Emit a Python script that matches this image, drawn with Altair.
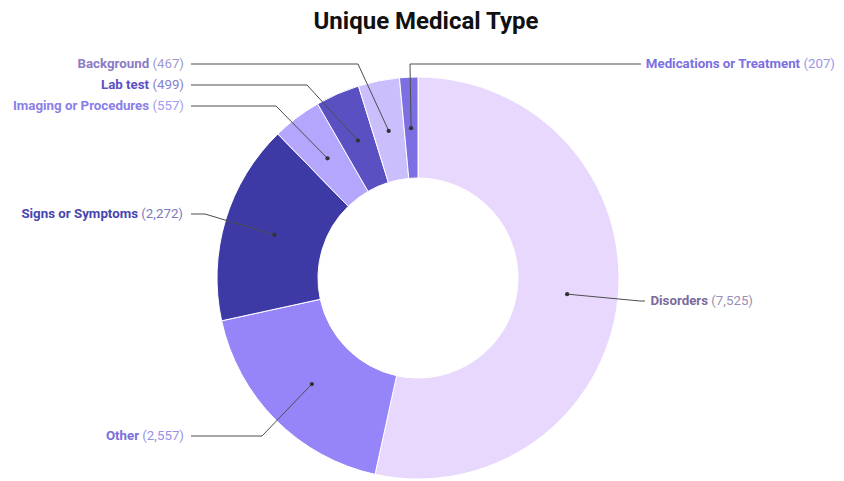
import math
import altair as alt
import pandas as pd

# ---- data ----
chart_title = "Unique Medical Type"
categories = ["Disorders", "Other", "Signs or Symptoms", "Imaging or Procedures",
              "Lab test", "Background", "Medications or Treatment"]
values = [7525, 2557, 2272, 557, 499, 467, 207]
slice_colors = ["#e9d8fd", "#9585f8", "#3e3aa5", "#b3a6fc", "#5a50c2", "#cbbefd", "#7b6fe2"]
name_colors = ["#7b6b9d", "#7a6ee0", "#4845ae", "#8a7eea", "#5a50c2", "#8a7bc4", "#7b6fe2"]
value_colors = ["#9a8fb5", "#9a90e8", "#7c78c4", "#a49bee", "#8580d0", "#a198cf", "#9d94ea"]

# ---- layout (plot-area pixels) ----
W, H = 828, 473
OX, OY = 8, 8  # screen offset of plot origin
CX, CY = 418 - OX, 278 - OY
R_OUT, R_IN, R_DOT = 201, 100, 150
# label vertical centre, label right end, elbow x, line end x (screen coords)
label_y = [301, 436, 214, 106, 85, 64, 64]
label_end = [753, 184, 183, 184, 184, 184, 835]
elbow_x = [640, 262, 205, 276, 307, 358, 410]
line_end = [645, 191, 191, 191, 191, 191, 641]
title_x, title_y = 426 - OX, 29 - OY

FS = 13.3
CW = {"(": 0.3418, ")": 0.3477, ",": 0.1963, " ": 0.2476}


def text_w(s):
    return sum(CW.get(c, 0.5615) for c in s) * FS


total = sum(values)
cum = 0
arc_rows, pts, dots, texts = [], [], [], []
for i, (c, v) in enumerate(zip(categories, values)):
    mid = (cum + v / 2) / total
    cum += v
    a = 2 * math.pi * mid
    dx = CX + R_DOT * math.sin(a)
    dy = CY - R_DOT * math.cos(a)
    arc_rows.append({"cat": c, "value": v, "idx": i})
    dots.append({"cat": c, "x": dx, "y": dy})
    ly = label_y[i] - OY
    pts += [
        {"cat": c, "seq": 0, "x": dx, "y": dy},
        {"cat": c, "seq": 1, "x": elbow_x[i] - OX, "y": ly},
        {"cat": c, "seq": 2, "x": line_end[i] - OX, "y": ly},
    ]
    vstr = f"({v:,})"
    xe = label_end[i] - OX
    texts.append({"t": vstr, "x": xe, "y": ly, "col": value_colors[i], "bold": False})
    texts.append({"t": c, "x": xe - text_w(vstr) - 3.3, "y": ly, "col": name_colors[i], "bold": True})

arc_df = pd.DataFrame(arc_rows)
pts_df = pd.DataFrame(pts)
dots_df = pd.DataFrame(dots)
txt_df = pd.DataFrame(texts)
title_df = pd.DataFrame([{"t": chart_title, "x": title_x, "y": title_y}])

donut = alt.Chart(arc_df).mark_arc(
    outerRadius=R_OUT, innerRadius=R_IN, stroke="white", strokeWidth=1
).encode(
    theta=alt.Theta("value:Q", stack=True),
    order=alt.Order("idx:Q", sort="ascending"),
    color=alt.Color("cat:N", scale=alt.Scale(domain=categories, range=slice_colors), legend=None),
    x=alt.value(CX),
    y=alt.value(CY),
)

leaders = alt.Chart(pts_df).mark_line(color="#4d4d4d", strokeWidth=1).encode(
    x=alt.X("x:Q", scale=None),
    y=alt.Y("y:Q", scale=None),
    detail="cat:N",
    order="seq:Q",
)

dot_layer = alt.Chart(dots_df).mark_circle(color="#333333", size=18, opacity=1).encode(
    x=alt.X("x:Q", scale=None),
    y=alt.Y("y:Q", scale=None),
)

names = alt.Chart(txt_df[txt_df.bold]).mark_text(
    align="right", baseline="middle", font="Roboto", fontSize=FS, fontWeight="bold"
).encode(
    x=alt.X("x:Q", scale=None), y=alt.Y("y:Q", scale=None),
    text="t:N", color=alt.Color("col:N", scale=None),
)
vals = alt.Chart(txt_df[~txt_df.bold]).mark_text(
    align="right", baseline="middle", font="Roboto", fontSize=FS, fontWeight="normal"
).encode(
    x=alt.X("x:Q", scale=None), y=alt.Y("y:Q", scale=None),
    text="t:N", color=alt.Color("col:N", scale=None),
)

title = alt.Chart(title_df).mark_text(
    align="center", baseline="alphabetic", font="Roboto", fontSize=24, fontWeight="bold", color="#111111"
).encode(
    x=alt.X("x:Q", scale=None), y=alt.Y("y:Q", scale=None), text="t:N",
)

chart = alt.layer(donut, leaders, dot_layer, names, vals, title).properties(
    width=W, height=H,
    autosize=alt.AutoSizeParams(type="none"),
    padding=0,
).configure_view(stroke=None)

chart.save("out.html", embed_options={"renderer": "svg", "actions": False})
